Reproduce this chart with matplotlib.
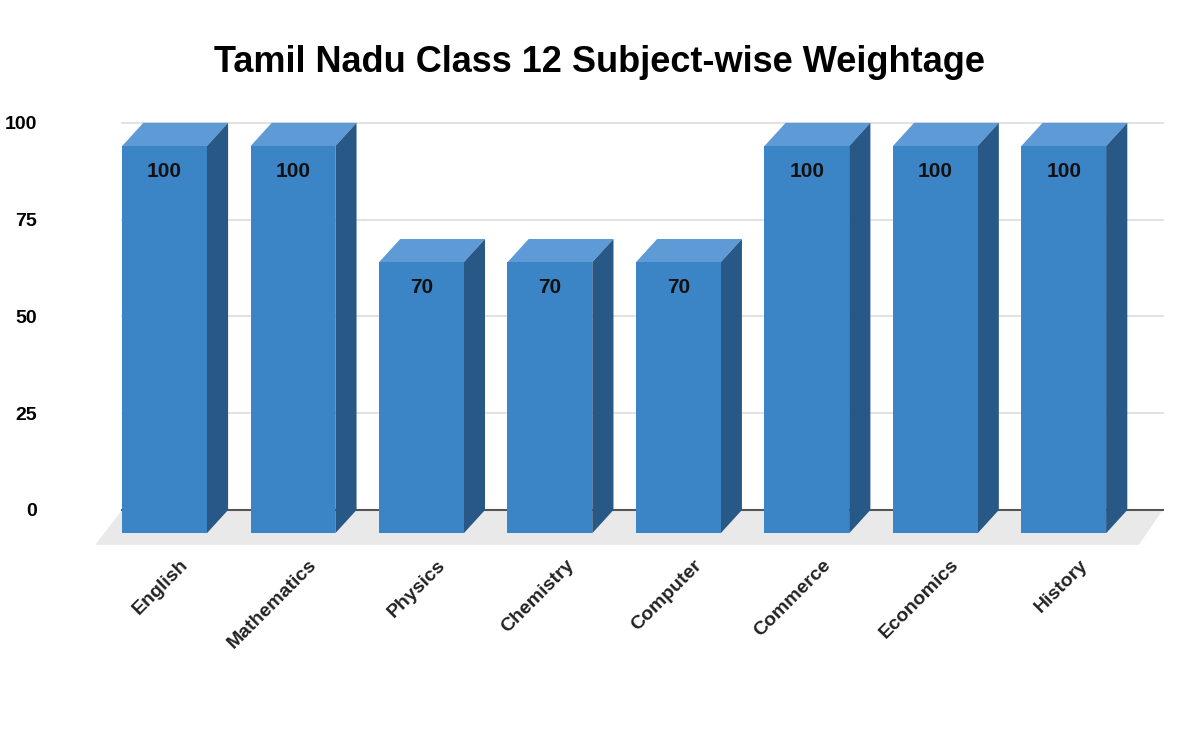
import matplotlib.pyplot as plt
from matplotlib.patches import Polygon

subjects = ['English', 'Mathematics', 'Physics', 'Chemistry', 'Computer',
            'Commerce', 'Economics', 'History']
marks = [100, 100, 70, 70, 70, 100, 100, 100]
ticks = [0, 25, 50, 75, 100]

plt.rcParams['font.family'] = ['Liberation Sans', 'DejaVu Sans']

fig = plt.figure(figsize=(12, 7.39), dpi=100)
ax = fig.add_axes([0.075, 0.2575, 0.896, 0.5815])
ax.set_xlim(-0.58, 7.79)
ax.set_ylim(-10, 101)

w = 0.33      # half width of bar face
dx = 0.165    # depth offset in x
dy = 6.0      # depth offset in y

# floor
ax.add_patch(Polygon([(-0.33 - 0.21, -9), (7.77 - dx - 0.02, -9), (7.77, 0), (-0.33, 0)],
                     closed=True, fc='#e9e9e9', ec='none', zorder=0))
# grid
for t in ticks:
    ax.plot([-0.33, 7.77], [t, t], color='#555555' if t == 0 else '#dddddd',
            lw=1.5 if t == 0 else 1.2, zorder=1)

front_c, top_c, side_c = '#3b84c6', '#5d9ad6', '#285886'
for i, v in enumerate(marks):
    x0, x1 = i - w, i + w
    yb, yt = -dy, v - dy
    ax.add_patch(Polygon([(x0, yt), (x1, yt), (x1 + dx, v), (x0 + dx, v)],
                         closed=True, fc=top_c, ec='none', zorder=3))
    ax.add_patch(Polygon([(x1, yb), (x1 + dx, 0), (x1 + dx, v), (x1, yt)],
                         closed=True, fc=side_c, ec='none', zorder=3))
    ax.add_patch(Polygon([(x0, yb), (x1, yb), (x1, yt), (x0, yt)],
                         closed=True, fc=front_c, ec='none', zorder=4))
    ax.text(i, yt - 6.5, str(v), ha='center', va='center', fontsize=15,
            fontweight='bold', color='#111111', zorder=5)
    ax.text(i + 0.12, -12, subjects[i], rotation=45, ha='right', va='top',
            rotation_mode='anchor', fontsize=14, fontweight='bold', color='#222222')

ax.set_yticks(ticks)
ax.set_yticklabels([str(t) for t in ticks], fontsize=14, fontweight='bold')
ax.tick_params(axis='y', length=0, pad=38)
ax.set_xticks([])
for s in ax.spines.values():
    s.set_visible(False)

fig.text(0.5, 1 - 62 / 739, 'Tamil Nadu Class 12 Subject-wise Weightage',
         ha='center', va='center', fontsize=26, fontweight='bold')

plt.savefig('out.png', dpi=100)
